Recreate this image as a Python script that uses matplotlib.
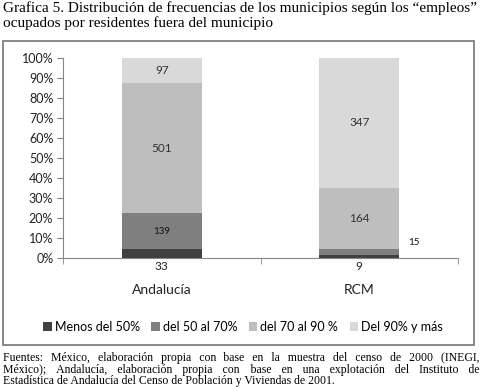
import numpy as np
import matplotlib
matplotlib.use('Agg')
import matplotlib.pyplot as plt
from matplotlib.patches import Rectangle
from matplotlib.ticker import PercentFormatter

plt.rcParams['font.family'] = ['Lato', 'DejaVu Sans']

categorias = ['Andalucía', 'RCM']
series = ['Menos del 50%', 'del 50 al 70%', 'del 70 al 90 %', 'Del 90% y más']
menos50 = [33, 9]
de50a70 = [139, 15]
de70a90 = [501, 164]
mas90 = [97, 347]
colores = ['#404040', '#7f7f7f', '#bebebe', '#d9d9d9']

valores = np.array([menos50, de50a70, de70a90, mas90], dtype=float)
totales = valores.sum(axis=0)
partes = valores / totales

W, H = 485, 387
fig = plt.figure(figsize=(W / 100, H / 100), dpi=100)

# marco del grafico
fig.patches.append(Rectangle((3 / W, 1 - 345 / H), 471 / W, 304 / H, transform=fig.transFigure,
                             fill=False, edgecolor='#808080', linewidth=1.3))

ax = fig.add_axes([63 / W, 1 - 258 / H, 395 / W, 200 / H])
x = np.arange(len(categorias))
abajo = np.zeros(len(categorias))
for i in range(len(series)):
    ax.bar(x, partes[i], 0.405, bottom=abajo, color=colores[i], label=series[i], linewidth=0)
    abajo += partes[i]

ax.set_xlim(-0.5, 1.5)
ax.set_ylim(0, 1)
ax.yaxis.set_major_locator(plt.MultipleLocator(0.1))
ax.yaxis.set_major_formatter(PercentFormatter(1.0, decimals=0))
for s in ['top', 'right']:
    ax.spines[s].set_visible(False)
for s in ['left', 'bottom']:
    ax.spines[s].set_color('#868686')
ax.tick_params(axis='y', length=4, color='#868686', labelsize=9, labelcolor='#222222', pad=3)
ax.set_xticks(x)
ax.set_xticklabels([])
ax.tick_params(axis='x', which='major', length=0)
ax.set_xticks([-0.5, 0.5, 1.5], minor=True)
ax.tick_params(axis='x', which='minor', length=4, color='#868686')

# etiquetas de categoria
for xi, cat in zip(x, categorias):
    ax.annotate(cat, (xi, 0), xycoords=('data', 'axes fraction'), xytext=(0, -23),
                textcoords='offset points', ha='center', va='center', fontsize=10, color='#222222')

# etiquetas de datos
cum = np.cumsum(partes, axis=0)
for i in range(len(series)):
    for j in range(len(categorias)):
        v = int(valores[i, j])
        centro = cum[i, j] - partes[i, j] / 2
        if i == 0:
            ax.annotate(str(v), (x[j], 0), xycoords=('data', 'axes fraction'), xytext=(0, -6),
                        textcoords='offset points', ha='center', va='center', fontsize=8.5,
                        color='#222222')
        elif i == 1 and j == 1:
            ax.annotate(str(v), (x[j], centro), xytext=(39, 7), textcoords='offset points',
                        ha='center', va='center', fontsize=7, color='#111111')
        elif i == 1:
            ax.text(x[j], centro, str(v), ha='center', va='center', fontsize=7, color='#111111')
        else:
            ax.text(x[j], centro, str(v), ha='center', va='center', fontsize=8.5, color='#333333')

fig.legend(loc='center', bbox_to_anchor=(243 / W, 1 - 327 / H), ncol=4, frameon=False,
           fontsize=9, handlelength=0.7, handleheight=0.7, handletextpad=0.25,
           columnspacing=0.9, borderaxespad=0)

serif = ['Liberation Serif', 'DejaVu Serif']
fig.text(3 / W, 1 - 1 / H, 'Grafica 5. Distribución de frecuencias de los municipios según los “empleos”\n'
         'ocupados por residentes fuera del municipio', family=serif, fontsize=11,
         va='top', ha='left', linespacing=1.12)

# nota al pie justificada (se rellenan los huecos con espacios finos)
lineas = ['Fuentes: México, elaboración propia con base en la muestra del censo de 2000 (INEGI,',
          'México); Andalucía, elaboración propia con base en una explotación del Instituto de',
          'Estadística de Andalucía del Censo de Población y Viviendas de 2001.']
ys = [361, 372.5, 384]
x0, x1 = 3, 479
tam = 8.5
renderer = fig.canvas.get_renderer()


def ancho(s):
    t = fig.text(0, 0, s, family=serif, fontsize=tam)
    w = t.get_window_extent(renderer).width
    t.remove()
    return w


fino = '\u200a'
w_fino = ancho('a' + fino * 10 + 'b') - ancho('ab')
w_fino = w_fino / 10 if w_fino > 1 else (ancho('a' + '\u2009' * 10 + 'b') - ancho('ab')) / 10

for k, (linea, yp) in enumerate(zip(lineas, ys)):
    yf = 1 - yp / H
    if k < len(lineas) - 1:
        palabras = linea.split(' ')
        extra = (x1 - x0) - ancho(linea)
        por_hueco = extra / (len(palabras) - 1)
        texto = palabras[0]
        puestos = 0
        for g, p in enumerate(palabras[1:]):
            n = int(round(por_hueco * (g + 1) / w_fino)) - puestos
            puestos += n
            texto += ' ' + fino * n + p
        linea = texto
    fig.text(x0 / W, yf, linea, family=serif, fontsize=tam, va='baseline', ha='left')

fig.savefig('out.png', dpi=100)
